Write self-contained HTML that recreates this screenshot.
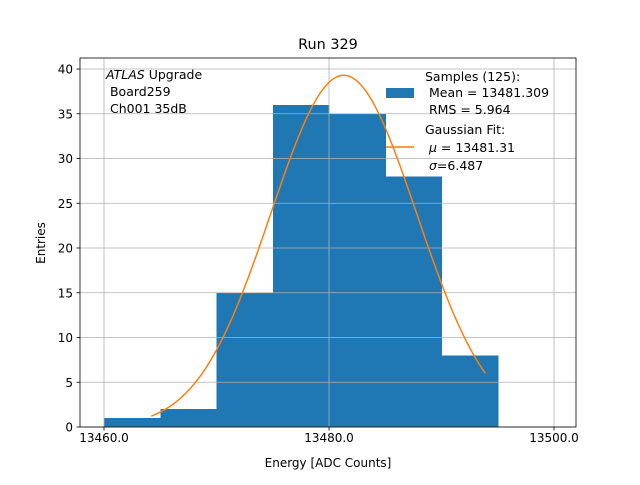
<!DOCTYPE html>
<html><head><meta charset="utf-8"><style>
body{margin:0;background:#fff;}
svg text{font-family:"DejaVu Sans","Liberation Sans",sans-serif;fill:#000;white-space:pre;}
</style></head><body>
<svg id="chart" width="640" height="480">
<rect width="640" height="480" fill="#fff"/>
<g id="bars" shape-rendering="crispEdges"></g>
<g id="grid"></g>
<g id="fit"></g>
<rect x="80" y="58" width="496" height="369" fill="none" stroke="#000" stroke-width="0.8"/>
<g id="ticks"></g>
<text x="328" y="49" font-size="14.4" text-anchor="middle">Run 329</text>
<text x="328" y="467" font-size="12" text-anchor="middle">Energy [ADC Counts]</text>
<text transform="translate(45,243) rotate(-90)" font-size="12" text-anchor="middle">Entries</text>
<g font-size="12.5">
<text x="106" y="79"><tspan font-style="italic">ATLAS</tspan> Upgrade</text>
<text x="106" y="96" xml:space="preserve"> Board259</text>
<text x="106" y="113" xml:space="preserve"> Ch001 35dB</text>
</g>
<g font-size="12.5">
<rect x="386" y="88" width="28" height="10" fill="#1f77b4"/>
<text x="425" y="81">Samples (125):</text>
<text x="425" y="97" xml:space="preserve"> Mean = 13481.309</text>
<text x="425" y="114" xml:space="preserve"> RMS = 5.964</text>
<line x1="386" y1="147" x2="414" y2="147" stroke="#ff7f0e" stroke-width="1.5"/>
<text x="425" y="134">Gaussian Fit:</text>
<text x="425" y="152" xml:space="preserve"> <tspan font-style="italic">μ</tspan> = 13481.31</text>
<text x="425" y="170" xml:space="preserve"> <tspan font-style="italic">σ</tspan>=6.487</text>
</g>
</svg>
<script>
const binEdges=[13460,13465,13470,13475,13480,13485,13490,13495];
const counts=[1,2,15,36,35,28,8];
const xTicks=[13460,13480,13500];
const xTickLabels=["13460.0","13480.0","13500.0"];
const yTicks=[0,5,10,15,20,25,30,35,40];
const fitMu=13481.31, fitSigma=6.487, fitAmp=39.3, fitRange=[13464.2,13493.9];
const NS="http://www.w3.org/2000/svg";
const X=v=>104+(v-13460)*11.25;
const Y=v=>427-v*8.95;
function mk(t,a,p){const e=document.createElementNS(NS,t);for(const k in a)e.setAttribute(k,a[k]);p.appendChild(e);return e;}
const grid=document.getElementById('grid'),bars=document.getElementById('bars'),ticks=document.getElementById('ticks'),fit=document.getElementById('fit');
xTicks.forEach((v,i)=>{
 const g=mk('line',{x1:X(v),x2:X(v),y1:58,y2:427,stroke:'#b0b0b0','stroke-width':0.8},grid);
 
 
 mk('line',{x1:X(v),x2:X(v),y1:427,y2:430.5,stroke:'#000','stroke-width':0.8},ticks);
 const t=mk('text',{x:X(v),y:442,'font-size':12,'text-anchor':'middle'},ticks);t.textContent=xTickLabels[i];
 
 
});
yTicks.forEach(v=>{
 const g=mk('line',{x1:80,x2:576,y1:Y(v),y2:Y(v),stroke:'#b0b0b0','stroke-width':0.8},grid);
 
 
 mk('line',{x1:76.5,x2:80,y1:Y(v),y2:Y(v),stroke:'#000','stroke-width':0.8},ticks);
 const t=mk('text',{x:73,y:Y(v)+4.5,'font-size':12,'text-anchor':'end'},ticks);t.textContent=v;
 
 
});
counts.forEach((c,i)=>{
 const r=mk('rect',{x:X(binEdges[i]),y:Y(c),width:X(binEdges[i+1])-X(binEdges[i])+0.5,height:Y(0)-Y(c),fill:'#1f77b4'},bars);
 
 
});
let d='';
for(let i=0;i<=200;i++){const x=fitRange[0]+(fitRange[1]-fitRange[0])*i/200;const y=fitAmp*Math.exp(-0.5*((x-fitMu)/fitSigma)**2);d+=(i?'L':'M')+X(x).toFixed(2)+','+Y(y).toFixed(2);}
const p=mk('path',{d:d,fill:'none',stroke:'#ff7f0e','stroke-width':1.5},fit);


</script>
</body></html>
